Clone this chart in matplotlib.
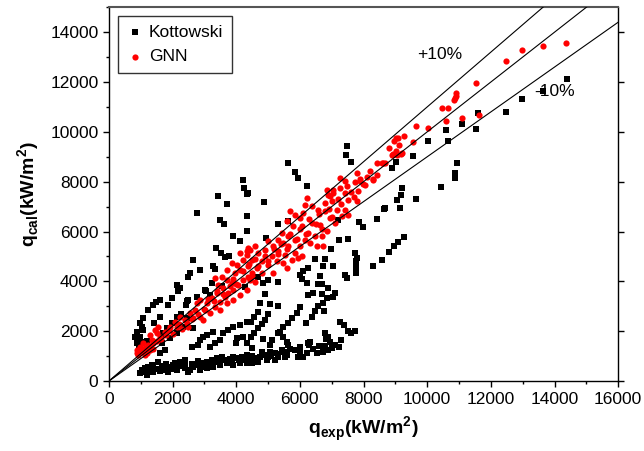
import numpy as np
import matplotlib
matplotlib.use("Agg")
import matplotlib.pyplot as plt
from matplotlib.ticker import MultipleLocator

plt.rcParams['font.family'] = ['Liberation Sans', 'DejaVu Sans']
plt.rcParams['mathtext.fontset'] = 'custom'
plt.rcParams['mathtext.rm'] = 'Liberation Sans'
plt.rcParams['mathtext.bf'] = 'Liberation Sans:bold'

# ---- Kottowski correlation (q_exp, q_cal) ----
kott_x = [14384, 13630, 12970, 12478, 11608, 11535, 11104, 10602, 10655, 10016, 9555, 9020, 8885,
          10928, 10875, 10865, 10445, 9199, 9166, 9060, 9136, 8675, 9659, 9262, 9073, 8947, 8810, 8570,
          7470, 7449, 7596, 5636, 5846, 5930, 6223, 4872, 4359, 4222,
          8653, 8413, 7867, 7993, 5616, 5321, 4925, 4328, 4328, 7207, 7229, 7502, 7732, 7785, 7763, 7753,
          7753, 8307, 7418, 7490, 6977, 6789, 6736, 7051, 6632, 6580, 6684, 6894, 7051, 7103, 6475, 6244,
          6107, 6003, 6055, 6213,
          6003, 5899, 5741, 5616, 5479, 5375,
          6244, 6422, 6684, 6842, 6716, 6580, 6475, 6370, 6757, 6181,
          7260, 7397, 7606, 7732, 6789, 6894, 6820, 6318, 6266,
          7229, 7000, 6894, 6736, 6527, 6213, 6107, 5950, 5846, 5532,
          4275, 4693, 4850, 5007, 5321, 4903, 4746, 4674, 4567, 4463, 5321, 5060, 4988, 4903, 4799, 4693,
          4567, 4463, 4485, 5321, 5479, 5585, 5636, 5113, 5060, 4850,
          4328, 4432, 4589, 4746, 4903, 5060, 5217, 5321, 5427, 4485, 4693, 4956, 5217,
          4253, 4328, 3435, 3699, 2756, 3489, 3614, 3907, 4117, 3363, 3511, 3646, 3781, 2650, 3279, 3331,
          2493, 2232, 3226, 3541, 3049, 2756, 2462, 1970, 1865, 1477, 1603, 1414, 1236, 1079, 974, 1027,
          817, 871, 953, 890, 1059, 974, 1027, 1184,
          2127, 1970, 1814, 1708, 1634, 1656, 1760, 1603,
          2493, 2420, 2253, 2462, 2336, 2148, 1917, 2650, 2598, 2808, 2860, 2965, 3090, 3279, 3331, 3174,
          3489, 3593, 3750, 3907, 4012, 3992, 4117, 4328, 4222, 4328,
          1393, 1603, 2179, 2148, 2546, 2860, 3017, 3174,
          974, 1027, 1131, 1236, 1342, 1393, 1184, 1550, 1655, 1760, 1917, 2075, 2232, 2389, 1865, 2127,
          2389, 2546, 2650, 2756, 2913, 3070, 3226, 3384, 3541, 3699, 3855, 4012, 4170, 4328, 2860, 3070,
          3279, 3489, 3699, 3907, 4117, 4328, 2493, 6230,
          1100, 1300, 1500, 1700, 2000, 2300, 2600, 2900, 3200, 3500, 3800, 4100, 4500, 4800, 5100, 5500,
          5700, 6000, 6300, 6600, 6950, 7300, 7500,
          1200, 1400, 1600, 1800, 2000, 2200, 2400, 2600, 2800, 3000, 3300, 3600, 3900, 4200, 4400, 4600,
          5000, 5300, 5600, 6000, 6400, 6800, 7100]
kott_y = [12109, 11640, 11305, 10795, 10770, 10125, 10312, 10057, 9615, 9615, 9011, 8810, 8556,
          8730, 8368, 8154, 7805, 7764, 7455, 7254, 6932, 6932, 7308, 5793, 5565, 5404, 5162, 4856,
          9426, 9052, 8798, 8757, 8380, 8154, 7817, 7201, 7551, 8086,
          6919, 6505, 6371, 6184, 6437, 6316, 5741, 6613, 6006, 6449, 5661, 5700, 5137, 4936, 4800, 4573,
          4332, 4600, 4264, 4131, 5298, 4896, 4600, 4626, 4224, 3902, 3902, 3728, 3393, 3553, 4896, 4533,
          4398, 4264, 4090, 3929,
          2990, 2723, 2522, 2347, 2186, 1985,
          3460, 3527, 3500, 3327, 3126, 3031, 2830, 2587, 2830, 2347,
          2387, 2253, 1918, 2025, 1918, 1784, 1676, 1583, 1543,
          1381, 1314, 1247, 1180, 1113, 1113, 979, 979, 1247, 979,
          3794, 4196, 3929, 4063, 3995, 3500, 3126, 2788, 2562, 2386, 3031, 3086, 2695, 2454, 2293, 2119,
          1943, 1782, 1314, 1918, 1784, 1583, 1448, 1650, 1448, 1676,
          712, 845, 912, 979, 1046, 1180, 1113, 979, 1247, 712, 778, 845, 845,
          7750, 7523, 7415, 7107, 6745, 6477, 6304, 5833, 5604, 5337, 5137, 4976, 5029, 4868, 4626, 4493,
          4196, 3729, 3929, 3821, 3633, 3393, 3230, 3327, 3057, 3190, 2587, 2347, 2856, 2522, 2319, 2186,
          1782, 1514, 1381, 1985, 2052, 1782, 1583, 1620,
          2587, 2319, 2119, 1918, 1716, 1514, 1247, 1113,
          3259, 3057, 2695, 2522, 2186, 1918, 1716, 2119, 1381, 1448, 1650, 1782, 1851, 1985, 1514, 1381,
          1650, 1918, 2052, 2186, 1716, 1514, 2253, 2386, 1782, 1514,
          3057, 3259, 3595, 3862, 4332, 4466, 3661, 3460,
          310, 443, 511, 575, 644, 374, 241, 778, 511, 443, 575, 712, 778, 845, 374, 443,
          511, 443, 575, 644, 712, 778, 845, 912, 979, 845, 778, 912, 979, 1046, 443, 511,
          575, 644, 712, 644, 712, 778, 374, 7817,
          350, 450, 500, 600, 650, 600, 700, 550, 650, 750, 900, 850, 1000, 1150, 1000, 1150,
          1300, 1350, 1450, 1400, 1550, 1650, 2000,
          400, 550, 400, 700, 500, 600, 700, 600, 800, 650, 750, 850, 950, 850, 950, 800,
          950, 1100, 1050, 1200, 1300, 1400, 1450]

# ---- GNN prediction (q_exp, q_cal) ----
gnn_x = [14364, 13630, 12970, 12478, 11535, 10916, 10890, 10865, 10843, 10456, 10665, 10602, 11104,
         11620, 10016, 9659, 9565, 9262, 9083, 8967, 8810, 9125, 9010, 8885, 9060, 9166, 9209, 8570, 8675,
         9020, 8935, 8622, 8413, 8307, 7993, 7785, 7732, 7470, 7260, 7418, 7051, 6842, 6946,
         8413, 8297, 8046, 7889, 7836, 7785, 7522, 7418, 7260, 7051, 6894, 6789, 7000, 7155, 7418, 7522,
         7313, 7103, 6946, 6789, 6580, 6370, 6213, 6160, 6107, 6003, 5846, 5689, 5585, 5794, 6055, 6370,
         6632, 6842, 6684, 6475, 6265, 6160, 6318, 6527, 6736, 6003, 5846, 5636, 5427, 5321, 5479, 5636,
         5846, 6055, 5741, 5532, 5321, 5164, 5007, 4903, 5113, 5270, 5479, 5007, 4799, 4693, 4589, 4432,
         4328, 4485, 4642, 4485, 4380, 4799, 5164, 4589, 4432, 5585, 5950, 8203,
         900, 871, 921, 1027, 1131, 1236, 1342, 1289, 1446, 1498, 1603, 1079, 974, 1184, 1289, 1393,
         1550, 1760, 1917, 2075, 2232, 2389, 2546, 2703, 2756, 2860, 3017, 3070, 3226, 3384, 3435, 3593,
         3699, 3855, 3960, 4012, 4117, 3855, 4222, 4328, 4380, 2127, 2441, 2650, 2493, 2965, 3174, 3331,
         3489, 3646, 3750, 3907, 4064, 4222, 4380, 3489, 3699, 3907, 4117, 4328, 3699, 3541, 3331, 2860,
         4117,
         1000, 1150, 1250, 1400, 1500, 1650, 1800, 1900, 2000, 2200, 2300, 2600, 2800, 3000, 3100, 3300,
         3400, 3600, 3800, 3900, 4000, 4200, 4400, 4500, 4600, 4700, 4900, 5000, 5200, 5300, 5400, 5600,
         5700, 5900, 6000, 6200, 6300, 6500, 6600, 6700, 6900, 7000, 7200, 7300, 7600, 7700, 7900, 8100]
gnn_y = [13558, 13425, 13264, 12862, 11977, 11546, 11425, 11345, 11276, 10955, 10970, 10420, 10540,
         10661, 10138, 10231, 9575, 9844, 9736, 9643, 9361, 9468, 9213, 9079, 9052, 9092, 9160, 8730, 8730,
         9763, 9092, 8757, 8288, 8086, 7925, 8352, 7978, 7817, 8154, 7550, 7550, 7683, 7415,
         8757, 8110, 7885, 8018, 7617, 7213, 7281, 8018, 7750, 7683, 7482, 7147, 7213, 6880, 6880, 6678,
         6610, 6344, 6545, 6812, 6880, 7013, 7348, 7081, 6745, 6545, 6678, 6812, 6410, 6208, 6208, 6344,
         6276, 6006, 5805, 5805, 5938, 5672, 5538, 5403, 5403, 5403, 5672, 5805, 5938, 5672, 5538, 5403,
         5137, 5001, 4868, 5069, 5202, 5403, 5604, 5270, 5001, 4800, 4733, 4667, 4800, 5137, 5403, 5270,
         5069, 4868, 4533, 4332, 4600, 4332, 4332, 3995, 4063, 4533, 4935, 8420,
         1113, 1247, 1046, 1180, 1314, 1448, 1650, 1851, 2052, 1918, 1782, 1514, 1381, 1113, 1247, 1514,
         2186, 1985, 2186, 2386, 2587, 2454, 2723, 2856, 3126, 2587, 2856, 3126, 3327, 3527, 3862, 3729,
         4063, 3929, 4332, 4667, 4466, 4733, 4868, 5202, 5337, 2186, 2319, 2522, 2186, 2454, 2723, 2990,
         3190, 3393, 3527, 3661, 3862, 4063, 4196, 2856, 3126, 3259, 3460, 3661, 4466, 4196, 4131, 3259,
         5137,
         1200, 1050, 1350, 1300, 1600, 1700, 1850, 2050, 1900, 2300, 2100, 2500, 2700, 2900, 3300, 3200,
         3600, 3500, 3800, 4100, 3900, 4400, 4700, 4200, 4900, 4600, 5000, 4800, 5300, 5100, 5500, 5300,
         5900, 5700, 6100, 5900, 6500, 6300, 6700, 6100, 6900, 6600, 7300, 7100, 7600, 7400, 8100, 8200]

ratios = [1.1, 1.0, 0.9]

fig = plt.figure(figsize=(6.44, 4.51), dpi=100)
ax = fig.add_axes([0.169, 0.155, 0.791, 0.829])

ax.scatter(kott_x, kott_y, marker='s', s=13, c='black', linewidths=0, label='Kottowski', zorder=3)
ax.scatter(gnn_x, gnn_y, marker='o', s=20, c='red', linewidths=0, label='GNN', zorder=4)

xl = np.array([0, 16000])
for r in ratios:
    ax.plot(xl, r * xl, color='black', lw=0.8, zorder=5)

ax.text(10400, 13100, '+10%', fontsize=12.5, ha='center', va='center')
ax.text(14000, 11620, '-10%', fontsize=12.5, ha='center', va='center')

ax.set_xlim(0, 16000)
ax.set_ylim(0, 15000)
ax.xaxis.set_major_locator(MultipleLocator(2000))
ax.xaxis.set_minor_locator(MultipleLocator(1000))
ax.yaxis.set_major_locator(MultipleLocator(2000))
ax.yaxis.set_minor_locator(MultipleLocator(1000))
ax.tick_params(which='major', direction='out', length=4, width=1, labelsize=12.5, right=True)
ax.tick_params(which='minor', direction='out', length=2.5, width=1)
for s in ax.spines.values():
    s.set_linewidth(1)
ax.spines['top'].set_color('#555555')
ax.spines['top'].set_linewidth(1.5)

ax.set_xlabel(r'q$_{\mathbf{exp}}$(kW/m$^{\mathbf{2}}$)', fontsize=14, fontweight='bold', labelpad=6)
ax.set_ylabel(r'q$_{\mathbf{cal}}$(kW/m$^{\mathbf{2}}$)', fontsize=14, fontweight='bold', labelpad=6)

leg = ax.legend(loc='upper left', fontsize=12.5, frameon=True, fancybox=False, edgecolor='black',
                handletextpad=0.3, borderpad=0.5, labelspacing=0.55, handlelength=1.0,
                bbox_to_anchor=(0.0, 1.0))
leg.get_frame().set_linewidth(1)

fig.savefig('out.png', dpi=100)
